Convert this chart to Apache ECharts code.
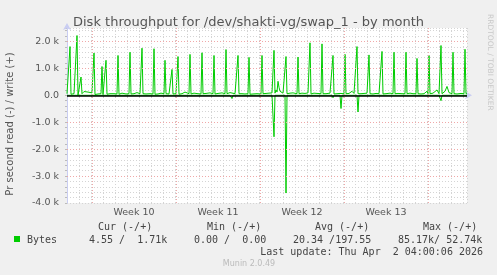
<!DOCTYPE html>
<html><head><meta charset="utf-8">
<script src="https://cdn.jsdelivr.net/npm/echarts@6/dist/echarts.min.js"></script>
<style>html,body{margin:0;padding:0;background:#f0f0f0;}#c{width:497px;height:275px;}</style>
</head><body><div id="c"></div>
<script>
// ---- text ----
const titleText = 'Disk throughput for /dev/shakti-vg/swap_1 - by month';
const yAxisName = 'Pr second read (-) / write (+)';
const sideText = 'RRDTOOL / TOBI OETIKER';
const weekLabels = ['Week 10', 'Week 11', 'Week 12', 'Week 13'];
// hours from left edge of the plot (2 h per sample, 800 h shown)
const weekStarts = [50, 218, 386, 554, 722];
const yMajorTicks = [-4000, -3000, -2000, -1000, 0, 1000, 2000];
const legendHeaders = ['Cur (-/+)', 'Min (-/+)', 'Avg (-/+)', 'Max (-/+)'];
const legendSeries = 'Bytes';
const legendValues = ['4.55 /  1.71k', '0.00 /  0.00', '20.34 /197.55', '85.17k/ 52.74k'];
const lastUpdate = 'Last update: Thu Apr  2 04:00:06 2026';
const footer = 'Munin 2.0.49';

// ---- data: [hour, bytes/s] ----
const writeData = [[0,60],[4,50],[6,1810],[8,40],[14,60],[18,40],[20,2220],[22,0],[26,20],[28,680],[30,60],[34,140],[38,90],[42,120],[46,80],[50,90],[52,40],[54,1570],[56,30],[62,50],[66,40],[68,60],[70,1070],[72,30],[76,40],[78,1300],[80,40],[86,60],[90,120],[94,60],[100,50],[102,1480],[104,40],[110,80],[114,110],[118,50],[124,60],[126,1600],[128,50],[134,60],[140,100],[144,170],[146,60],[148,50],[150,1750],[152,60],[158,50],[166,60],[172,50],[174,1730],[176,40],[182,50],[188,80],[194,60],[196,1300],[198,60],[204,50],[208,60],[210,960],[212,50],[218,60],[220,40],[222,1440],[224,40],[230,60],[236,120],[240,70],[244,60],[246,1520],[248,50],[254,80],[258,120],[262,60],[268,50],[270,1580],[272,60],[278,70],[286,90],[292,60],[294,1480],[296,50],[302,70],[310,90],[316,60],[318,1700],[320,60],[326,100],[330,60],[336,60],[340,50],[342,1480],[344,60],[350,60],[356,50],[362,60],[364,1410],[366,40],[372,50],[380,60],[388,50],[390,1480],[392,60],[398,70],[404,80],[410,90],[412,60],[414,1670],[416,80],[418,200],[420,120],[422,520],[424,300],[426,150],[428,100],[432,80],[436,80],[438,1440],[440,60],[446,80],[452,90],[456,70],[460,60],[462,1420],[464,60],[470,80],[476,70],[482,90],[484,60],[486,1950],[488,50],[494,80],[500,70],[508,60],[510,1910],[512,60],[518,60],[526,80],[530,60],[532,1480],[534,50],[540,60],[546,70],[550,60],[554,60],[556,1520],[558,60],[564,70],[570,150],[574,70],[578,60],[580,1810],[582,60],[588,60],[594,70],[600,80],[602,60],[604,1500],[606,60],[612,50],[618,70],[624,60],[628,60],[630,1630],[632,50],[638,60],[646,80],[652,60],[654,1600],[656,60],[662,70],[670,60],[676,60],[678,1600],[680,60],[686,80],[692,60],[698,60],[700,1370],[702,60],[708,50],[714,60],[720,150],[722,60],[724,1480],[726,60],[732,80],[740,200],[744,60],[746,60],[748,1850],[750,60],[756,150],[760,330],[764,100],[770,60],[772,1600],[774,60],[780,50],[788,70],[794,60],[796,1710],[798,60],[800,60]];
const readData = [[0,0],[20,0],[22,-40],[24,0],[54,0],[56,-50],[58,0],[100,0],[104,-30],[106,0],[226,0],[228,-40],[230,0],[326,0],[328,-60],[330,-120],[332,0],[410,0],[412,-60],[414,-1540],[416,0],[436,0],[438,-3630],[440,0],[530,0],[532,-90],[534,0],[546,0],[548,-490],[550,0],[580,0],[582,-620],[584,0],[744,0],[748,-200],[750,0],[800,0]];

const GREEN = '#00cc00';
const AXIS = '#c9cdf2';
const MINOR = '#d4d4d4';
const MAJOR = '#f0a8a8';

const chart = echarts.init(document.getElementById('c'), null, {renderer: 'canvas'});

function yFmt(v) {
  if (v % 1000 !== 0) return '';
  if (v === 0) return '0.0';
  return (v / 1000).toFixed(1) + ' k';
}
function weekFmt(v) {
  const k = (v - weekStarts[0] - 84) / 168;
  return (Number.isInteger(k) && k >= 0 && k < weekLabels.length) ? weekLabels[k] : '';
}

const mono = 'DejaVu Sans Mono';
const txt = (text, x, y, extra) => Object.assign({
  type: 'text', x: x, y: y, silent: true,
  style: Object.assign({text: text, fill: '#444', font: '10px "' + mono + '"', textAlign: 'left', textVerticalAlign: 'middle'}, extra || {})
});

const graphics = [
  txt(yAxisName, 10, 124, {font: '10px "DejaVu Sans"', fill: '#555', textAlign: 'center'}),
  {type: 'text', x: 490, y: 14, rotation: -Math.PI / 2, silent: true,
   style: {text: sideText, fill: '#c8c8c8', font: '7.5px "DejaVu Sans"', textAlign: 'left', textVerticalAlign: 'middle'}},
  {type: 'rect', shape: {x: 14, y: 236, width: 6, height: 6}, style: {fill: GREEN}, silent: true},
  txt(legendSeries, 27, 240),
  txt(lastUpdate, 483, 252, {textAlign: 'right'}),
  txt(footer, 249, 264, {font: '8px "DejaVu Sans"', fill: '#bbb', textAlign: 'center'})
];
graphics[0].rotation = Math.PI / 2;
const headerX = [98, 207, 315, 423];
const valueX = [89, 194, 293, 398];
legendHeaders.forEach((h, i) => graphics.push(txt(h, headerX[i], 227)));
legendValues.forEach((v, i) => graphics.push(txt(v, valueX[i], 240)));

const option = {
  animation: false,
  backgroundColor: '#f0f0f0',
  title: {
    text: titleText, left: 68, top: 11,
    textStyle: {fontFamily: 'DejaVu Sans', fontSize: 13, fontWeight: 'normal', color: '#555'}
  },
  grid: {left: 67, top: 28, width: 400, height: 175, show: true, backgroundColor: '#fff', borderWidth: 0, containLabel: false},
  xAxis: [
    {type: 'value', min: 0, max: 800, interval: 24,
     axisLine: {show: true, lineStyle: {color: AXIS, width: 1}, symbol: ['none', 'arrow'], symbolSize: [6, 7], symbolOffset: [0, 5]},
     axisTick: {show: true, length: 2, inside: false, lineStyle: {color: '#bbb'}},
     axisLabel: {show: false},
     splitLine: {show: true, lineStyle: {color: MINOR, type: [1, 2], width: 1}}},
    {type: 'value', min: 0, max: 800, interval: 2, position: 'bottom',
     axisLine: {show: false}, axisTick: {show: false}, splitLine: {show: false},
     axisLabel: {show: true, formatter: weekFmt, color: '#555', fontFamily: 'DejaVu Sans', fontSize: 9.5, margin: 5, hideOverlap: false}}
  ],
  yAxis: [
    {type: 'value', min: -4000, max: 2500, interval: 200,
     axisLine: {show: true, lineStyle: {color: AXIS, width: 1}, symbol: ['none', 'arrow'], symbolSize: [6, 7], symbolOffset: [0, 5]},
     axisTick: {show: true, length: 2, lineStyle: {color: '#bbb'}},
     axisLabel: {show: true, formatter: yFmt, color: '#555', fontFamily: 'DejaVu Sans', fontSize: 9.5, margin: 8},
     splitLine: {show: true, lineStyle: {color: MINOR, type: [1, 2], width: 1}}}
  ],
  series: [
    {type: 'line', xAxisIndex: 0, yAxisIndex: 0, data: [], z: 1, silent: true,
     markLine: {silent: true, symbol: 'none', label: {show: false}, animation: false,
       lineStyle: {color: MAJOR, type: [1, 2], width: 1},
       data: weekStarts.map(x => ({xAxis: x})).concat(yMajorTicks.filter(v => v !== 0 && v !== -4000).map(v => ({yAxis: v})))}},
    {type: 'line', name: 'write', xAxisIndex: 0, yAxisIndex: 0, data: writeData, symbol: 'none', z: 3,
     lineStyle: {color: GREEN, width: 1}, itemStyle: {color: GREEN}},
    {type: 'line', name: 'read', xAxisIndex: 0, yAxisIndex: 0, data: readData, symbol: 'none', z: 3,
     lineStyle: {color: GREEN, width: 1}, itemStyle: {color: GREEN},
     markLine: {silent: true, symbol: 'none', label: {show: false}, animation: false,
       lineStyle: {color: '#000', type: 'solid', width: 1.5}, data: [{yAxis: 0}]}}
  ],
  graphic: graphics
};
chart.setOption(option);
</script>
</body></html>
